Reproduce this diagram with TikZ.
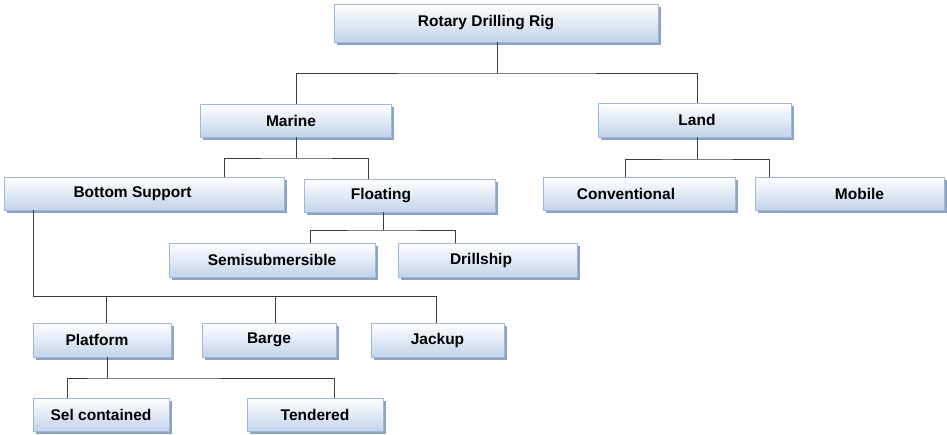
\documentclass[tikz,border=0pt]{standalone}
\usepackage{fontspec}
\setmainfont{Liberation Sans}
\usetikzlibrary{shadows}
\definecolor{boxborder}{HTML}{9DB8DC}
\definecolor{boxblue}{HTML}{C2D3EA}
\definecolor{shadowc}{HTML}{8EA1BD}
\definecolor{linec}{HTML}{3C3C3C}
\tikzset{
  box/.style={draw=boxborder, line width=0.9pt, top color=white, bottom color=boxblue,
    inner sep=0pt, font=\bfseries\fontsize{15.5}{17}\selectfont,
    drop shadow={shadow xshift=2.5pt, shadow yshift=-3pt, fill=shadowc, opacity=1}},
  conn/.style={draw=linec, line width=1pt}
}
\newcommand{\bx}[6]{% name, x1, y1, x2, y2, text
  \node[box, minimum width={#4pt-#2pt}, minimum height={#5pt-#3pt}] (#1) at ({(#2+#4)/2},{(#3+#5)/2}) {#6};}
\begin{document}
\begin{tikzpicture}[x=1pt,y=-1pt]
\useasboundingbox (0,0) rectangle (947,434);
\bx{rig}{334}{4}{658}{42}{\hspace*{-20pt}Rotary Drilling Rig}
\bx{marine}{200}{104}{391}{137}{\hspace*{-9pt}Marine}
\bx{land}{598}{103}{791}{137}{\hspace*{5pt}Land}
\bx{bottom}{4}{177}{284}{210}{\hspace*{-23pt}Bottom Support}
\bx{floating}{304}{179}{495}{212}{\hspace*{-37pt}Floating}
\bx{conv}{543}{177}{735}{210}{\hspace*{-26pt}Conventional}
\bx{mobile}{755}{177}{944}{210}{\hspace*{20pt}Mobile}
\bx{semi}{169}{243}{375}{277}{Semisubmersible}
\bx{drill}{398}{243}{577}{277}{\hspace*{-13pt}Drillship}
\bx{platform}{33}{323}{171}{357}{\hspace*{-10pt}Platform}
\bx{barge}{202}{323}{336}{357}{Barge}
\bx{jackup}{371}{323}{504}{357}{Jackup}
\bx{sel}{33}{398}{169}{431}{Sel contained}
\bx{tend}{247}{398}{383}{431}{Tendered}

\coordinate (j1) at (497,73);
\coordinate (j2) at (296,158);
\coordinate (j3) at (697,159);
\coordinate (j4) at (383,230);
\coordinate (j5) at (33,296);
\coordinate (j6) at (107,378);
\coordinate (bsx) at (224,0);
\coordinate (flx) at (368,0);
\coordinate (cvx) at (625,0);
\coordinate (mbx) at (769,0);
\coordinate (smx) at (310,0);
\coordinate (drx) at (455,0);
\coordinate (pfx) at (106,0);
\coordinate (bgx) at (275,0);
\coordinate (jkx) at (436,0);
\coordinate (slx) at (67,0);
\coordinate (tdx) at (334,0);

\draw[conn] (rig.south -| j1) -- (j1);
\draw[conn] (marine.north -| j2) |- (j1) -| (land.north -| j3);
\draw[conn] (marine.south -| j2) -- (j2);
\draw[conn] (bottom.north -| bsx) |- (j2) -| (floating.north -| flx);
\draw[conn] (land.south -| j3) -- (j3);
\draw[conn] (conv.north -| cvx) |- (j3) -| (mobile.north -| mbx);
\draw[conn] (floating.south -| j4) -- (j4);
\draw[conn] (semi.north -| smx) |- (j4) -| (drill.north -| drx);
\draw[conn] (bottom.south -| j5) -- (j5) -| (jackup.north -| jkx);
\draw[conn] (platform.north -| pfx) -- (pfx |- j5);
\draw[conn] (barge.north -| bgx) -- (bgx |- j5);
\draw[conn] (platform.south -| j6) -- (j6);
\draw[conn] (sel.north -| slx) |- (j6) -| (tend.north -| tdx);
\end{tikzpicture}
\end{document}
